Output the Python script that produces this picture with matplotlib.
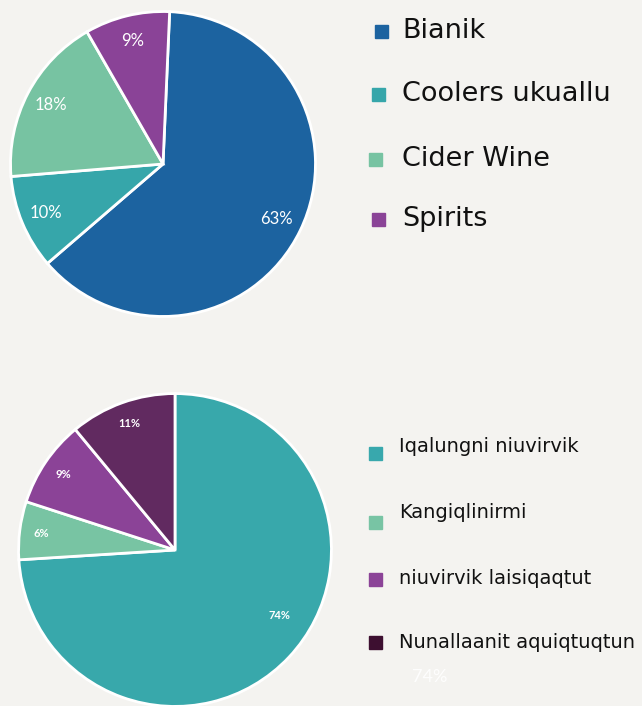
import matplotlib.pyplot as plt
from matplotlib.patches import Rectangle
import numpy as np

# data
top_labels = ['Bianik', 'Coolers ukuallu', 'Cider Wine', 'Spirits']
top_values = [63, 10, 18, 9]
top_colors = ['#1c63a0', '#36a6aa', '#77c3a2', '#8a4397']

bot_labels = ['Iqalungni niuvirvik', 'Kangiqlinirmi', 'niuvirvik laisiqaqtut', 'Nunallaanit aquiqtuqtun']
bot_values = [74, 6, 9, 11]
bot_colors = ['#38a8ab', '#78c4a3', '#8b4397', '#612a60']
bot_legend_colors = ['#38a8ad', '#78c4a4', '#8b4397', '#3d0f30']

W, H = 642, 706
bg = '#f4f3f0'
fig = plt.figure(figsize=(W / 100, H / 100), dpi=100, facecolor=bg)


def px_axes(x0, y0, x1, y1):
    # pixel box (top-left origin) -> figure axes
    return fig.add_axes([x0 / W, 1 - y1 / H, (x1 - x0) / W, (y1 - y0) / H])


# top pie
ax1 = px_axes(9, 10, 317, 318)
w1, t1, a1 = ax1.pie(top_values, colors=top_colors, startangle=87.5, counterclock=False,
                     autopct='%d%%', pctdistance=0.83,
                     wedgeprops=dict(edgecolor='white', linewidth=2),
                     textprops=dict(color='white', fontsize=12, family='Lato'))
ax1.set_xlim(-1.01, 1.01)
ax1.set_ylim(-1.01, 1.01)
ax1.set_aspect('equal')

# bottom pie
ax2 = px_axes(17, 392, 333, 708)
w2, t2, a2 = ax2.pie(bot_values, colors=bot_colors, startangle=90, counterclock=False,
                     autopct='%d%%', pctdistance=0.86,
                     wedgeprops=dict(edgecolor='white', linewidth=2),
                     textprops=dict(color='white', fontsize=8, family='Lato', weight='bold'))
ax2.set_xlim(-1.01, 1.01)
ax2.set_ylim(-1.01, 1.01)
ax2.set_aspect('equal')
# big slice label sits higher than its mid angle in the source
ang = np.deg2rad(-32)
a2[0].set_position((0.79 * np.cos(ang), 0.79 * np.sin(ang)))

# legends, drawn by hand
top_rows = [(382, 31), (379, 94), (376, 159), (379, 219)]
for (mx, my), lab, col in zip(top_rows, top_labels, top_colors):
    fig.patches.append(Rectangle(((mx - 7) / W, 1 - (my + 7) / H), 13 / W, 13 / H,
                                 transform=fig.transFigure, color=col))
    fig.text(402 / W, 1 - my / H, lab, fontsize=19.5, color='#111111',
             va='center', ha='left', family='DejaVu Sans')

bot_rows = [(376, 453, 447), (376, 522, 512), (376, 579, 578), (376, 642, 642)]
for (mx, my, ty), lab, col in zip(bot_rows, bot_labels, bot_legend_colors):
    fig.patches.append(Rectangle(((mx - 7) / W, 1 - (my + 7) / H), 13 / W, 13 / H,
                                 transform=fig.transFigure, color=col))
    fig.text(399 / W, 1 - ty / H, lab, fontsize=14, color='#111111',
             va='center', ha='left', family='DejaVu Sans')

# stray label left over in the source image
fig.text(430 / W, 1 - 677 / H, '74%', fontsize=13, color='white', alpha=0.9,
         va='center', ha='center', family='Lato')

plt.savefig('out.png', dpi=100, facecolor=bg)
